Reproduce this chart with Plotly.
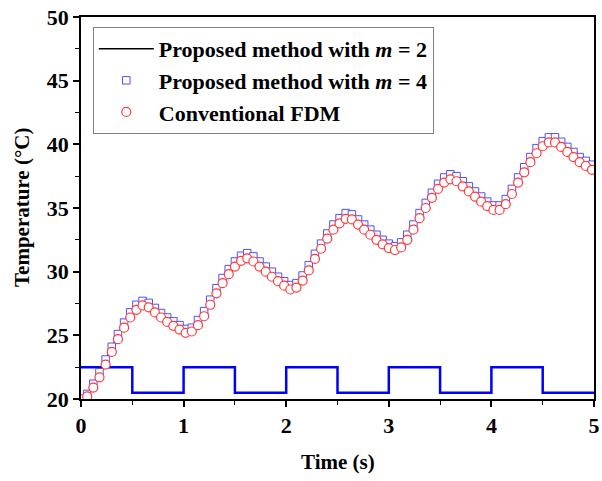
import plotly.graph_objects as go

# time grid (s)
time_s = [round(i * 0.06, 2) for i in range(84)]

# Conventional FDM (red circles)
temp_fdm = [20.0, 20.2, 20.9, 21.7, 22.7, 23.7, 24.7, 25.6, 26.4, 27.0,
            27.35, 27.2, 26.8, 26.4, 26.05, 25.75, 25.45, 25.2, 25.3, 25.8,
            26.5, 27.4, 28.3, 29.1, 29.8, 30.4, 30.85, 31.05, 30.8, 30.4,
            30.0, 29.6, 29.25, 28.9, 28.6, 28.75, 29.3, 30.1, 31.0, 31.8,
            32.6, 33.3, 33.8, 34.15, 34.1, 33.7, 33.3, 32.9, 32.5, 32.15,
            31.85, 31.7, 31.9, 32.5, 33.3, 34.2, 35.0, 35.8, 36.5, 37.0,
            37.25, 37.1, 36.7, 36.3, 35.9, 35.5, 35.15, 34.85, 34.85, 35.3,
            36.1, 37.0, 37.8, 38.6, 39.3, 39.85, 40.15, 40.15, 39.8, 39.4,
            39.0, 38.6, 38.3, 38.0]

# Proposed method with m = 4 (blue squares)
temp_m4 = [20.0, 20.4, 21.2, 22.1, 23.1, 24.1, 25.1, 26.0, 26.8, 27.4,
           27.7, 27.55, 27.15, 26.75, 26.4, 26.1, 25.8, 25.5, 25.6, 26.2,
           26.9, 27.8, 28.7, 29.5, 30.2, 30.8, 31.25, 31.45, 31.2, 30.8,
           30.4, 30.0, 29.6, 29.25, 28.95, 29.1, 29.7, 30.5, 31.4, 32.2,
           33.0, 33.7, 34.2, 34.6, 34.5, 34.1, 33.7, 33.3, 32.9, 32.5,
           32.2, 32.0, 32.3, 32.9, 33.7, 34.6, 35.4, 36.2, 36.9, 37.4,
           37.65, 37.5, 37.1, 36.7, 36.3, 35.9, 35.5, 35.2, 35.2, 35.7,
           36.5, 37.4, 38.2, 39.0, 39.7, 40.25, 40.55, 40.55, 40.2, 39.8,
           39.4, 39.0, 38.7, 38.4]

# Proposed method with m = 2 (black line)
temp_m2 = [20.0, 20.35, 21.15, 22.05, 23.05, 24.05, 25.05, 25.95, 26.75, 27.35,
           27.65, 27.5, 27.1, 26.7, 26.35, 26.05, 25.75, 25.45, 25.55, 26.15,
           26.85, 27.75, 28.65, 29.45, 30.15, 30.75, 31.2, 31.4, 31.15, 30.75,
           30.35, 29.95, 29.55, 29.2, 28.9, 29.05, 29.65, 30.45, 31.35, 32.15,
           32.95, 33.65, 34.15, 34.55, 34.45, 34.05, 33.65, 33.25, 32.85, 32.45,
           32.15, 31.95, 32.25, 32.85, 33.65, 34.55, 35.35, 36.15, 36.85, 37.35,
           37.6, 37.45, 37.05, 36.65, 36.25, 35.85, 35.45, 35.15, 35.15, 35.65,
           36.45, 37.35, 38.15, 38.95, 39.65, 40.2, 40.5, 40.5, 40.15, 39.75,
           39.35, 38.95, 38.65, 38.35]

# heat input square wave (blue line)
pulse_t = [0.0, 0.5, 1.0, 1.5, 2.0, 2.5, 3.0, 3.5, 4.0, 4.5, 5.0]
pulse_level = [22.5, 20.5, 22.5, 20.5, 22.5, 20.5, 22.5, 20.5, 22.5, 20.5, 20.5]

x_ticks = [0, 1, 2, 3, 4, 5]
y_ticks = [20, 25, 30, 35, 40, 45, 50]

FONT = "Liberation Serif, Times New Roman, serif"

fig = go.Figure()

fig.add_trace(go.Scatter(
    x=pulse_t, y=pulse_level, mode="lines", line=dict(color="#0000ff", width=2.5, shape="hv"),
    showlegend=False, hoverinfo="skip"))

fig.add_trace(go.Scatter(
    x=time_s, y=temp_m2, mode="lines", line=dict(color="black", width=1.5),
    name="<b>Proposed method with <i>m</i> = 2</b>"))

fig.add_trace(go.Scatter(
    x=time_s, y=temp_m4, mode="markers",
    marker=dict(symbol="square", size=7.5, color="white", line=dict(width=1, color="#4f4fff")),
    name="<b>Proposed method with <i>m</i> = 4</b>"))

fig.add_trace(go.Scatter(
    x=time_s, y=temp_fdm, mode="markers",
    marker=dict(symbol="circle", size=9, color="white", line=dict(width=1.2, color="#ff3a3a")),
    name="<b>Conventional FDM</b>"))

axis_common = dict(
    showgrid=False, zeroline=False, showline=True, linecolor="black", linewidth=1.5,
    mirror=True, ticks="outside", ticklen=6, tickwidth=1.5, tickcolor="black",
    tickfont=dict(family=FONT, size=22, color="black"),
    minor=dict(ticks="outside", ticklen=4, tickwidth=1.2, tickcolor="black"),
    automargin=False, ticklabeloverflow="allow",
)

fig.update_xaxes(
    range=[0, 5], tickvals=x_ticks, ticktext=[f"<b>{v}</b>" for v in x_ticks],
    minor_dtick=0.5, **axis_common)
fig.update_yaxes(
    range=[20, 50], tickvals=y_ticks, ticktext=[f"<b>{v}</b>" for v in y_ticks],
    minor_dtick=2.5, **axis_common)

fig.add_annotation(
    text="<b>Time (s)</b>", xref="paper", yref="paper", x=0.5, y=-0.165,
    xanchor="center", yanchor="middle", showarrow=False,
    font=dict(family=FONT, size=21, color="black"))
fig.add_annotation(
    text="<b>Temperature (°C)</b>", xref="paper", yref="paper", x=-0.115, y=0.5,
    xanchor="center", yanchor="middle", showarrow=False, textangle=-90,
    font=dict(family=FONT, size=21, color="black"))

fig.update_layout(
    width=602, height=481,
    margin=dict(l=81, r=8, t=17, b=82),
    plot_bgcolor="white", paper_bgcolor="white",
    font=dict(family=FONT, color="black"),
    legend=dict(
        x=0.023, y=0.974, xanchor="left", yanchor="top",
        bgcolor="white", bordercolor="#808080", borderwidth=1,
        font=dict(family=FONT, size=22, color="black"),
        itemwidth=55, tracegroupgap=0,
    ),
)

fig.write_html(
    "out.html",
    config={"displayModeBar": False},
    post_script="document.body.style.margin='0';document.body.style.overflow='hidden';",
)
